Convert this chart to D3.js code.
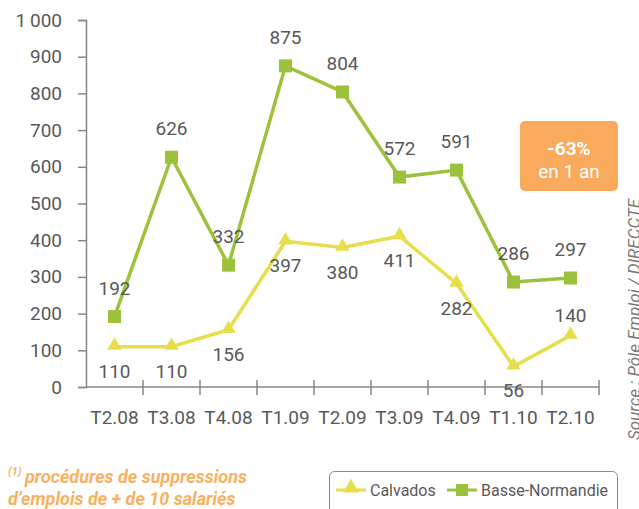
<!DOCTYPE html>
<html>
<head>
<meta charset="utf-8">
<script src="https://cdn.jsdelivr.net/npm/d3@7"></script>
<style>
  body { margin: 0; background: #fff; }
  svg { display: block; }
  text { font-family: Roboto, "DejaVu Sans", sans-serif; fill: #595959; }
</style>
</head>
<body>
<div id="chart"></div>
<script>
const quarters = ["T2.08", "T3.08", "T4.08", "T1.09", "T2.09", "T3.09", "T4.09", "T1.10", "T2.10"];
const calvados = [110, 110, 156, 397, 380, 411, 282, 56, 140];
const basseNormandie = [192, 626, 332, 875, 804, 572, 591, 286, 297];
const calvadosLabelSide = ["below", "below", "below", "below", "below", "below", "below", "below", "above"];
const yTicks = [0, 100, 200, 300, 400, 500, 600, 700, 800, 900, 1000];

const width = 639;
const height = 509;
const margin = { top: 20, right: 40, bottom: 122, left: 86 };
const plotW = 599 - margin.left;
const plotH = 387 - margin.top;

const green = "#9cc23b";
const yellow = "#e6df4b";
const orange = "#f9aa5c";
const axisGrey = "#878787";

const svg = d3.select("#chart").append("svg")
  .attr("width", width)
  .attr("height", height);

const g = svg.append("g")
  .attr("transform", "translate(" + margin.left + "," + margin.top + ")");

const x = d3.scaleBand().domain(quarters).range([0, plotW]);
const y = d3.scaleLinear().domain([0, 1000]).range([plotH, 0]);
const fmt = v => d3.format(",")(v).replace(",", "\u2009");

// y axis
const yAxis = g.append("g")
  .call(d3.axisLeft(y).tickValues(yTicks).tickSize(8).tickPadding(16).tickFormat(fmt));
yAxis.select(".domain").attr("stroke", axisGrey).attr("stroke-width", 1.5);
yAxis.selectAll(".tick line").attr("stroke", axisGrey).attr("stroke-width", 1.5);
yAxis.selectAll(".tick text")
  .attr("font-size", 19)
  .attr("fill", "#595959")
  .attr("font-family", "Roboto, sans-serif");

// x axis (ticks between categories, crossing the axis line)
const xg = g.append("g").attr("transform", "translate(0," + plotH + ")");
xg.append("line")
  .attr("x1", 0).attr("x2", plotW)
  .attr("stroke", axisGrey).attr("stroke-width", 1.5);
xg.selectAll(".sep")
  .data(quarters)
  .join("line")
  .attr("x1", d => x(d) + x.bandwidth())
  .attr("x2", d => x(d) + x.bandwidth())
  .attr("y1", -7).attr("y2", 8)
  .attr("stroke", axisGrey).attr("stroke-width", 1.5);
xg.selectAll(".lbl")
  .data(quarters)
  .join("text")
  .attr("x", d => x(d) + x.bandwidth() / 2)
  .attr("y", 37)
  .attr("text-anchor", "middle")
  .attr("font-size", 19)
  .text(d => d);

const line = d3.line()
  .x((d, i) => x(quarters[i]) + x.bandwidth() / 2)
  .y(d => y(d));

// Basse-Normandie
g.append("path")
  .datum(basseNormandie)
  .attr("d", line)
  .attr("fill", "none")
  .attr("stroke", green)
  .attr("stroke-width", 3.5);
g.selectAll(".sq")
  .data(basseNormandie)
  .join("rect")
  .attr("x", (d, i) => x(quarters[i]) + x.bandwidth() / 2 - 6.5)
  .attr("y", d => y(d) - 6.5)
  .attr("width", 13).attr("height", 13)
  .attr("fill", green);

// Calvados
g.append("path")
  .datum(calvados)
  .attr("d", line)
  .attr("fill", "none")
  .attr("stroke", yellow)
  .attr("stroke-width", 3.5);
const tri = d3.symbol().type(d3.symbolTriangle).size(90);
g.selectAll(".tri")
  .data(calvados)
  .join("path")
  .attr("d", tri)
  .attr("transform", (d, i) => "translate(" + (x(quarters[i]) + x.bandwidth() / 2) + "," + (y(d) - 1) + ")")
  .attr("fill", yellow);

// data labels
g.selectAll(".lblG")
  .data(basseNormandie)
  .join("text")
  .attr("x", (d, i) => x(quarters[i]) + x.bandwidth() / 2)
  .attr("y", d => y(d) - 22)
  .attr("text-anchor", "middle")
  .attr("font-size", 19)
  .text(d => d);
g.selectAll(".lblY")
  .data(calvados)
  .join("text")
  .attr("x", (d, i) => x(quarters[i]) + x.bandwidth() / 2)
  .attr("y", (d, i) => calvadosLabelSide[i] === "above" ? y(d) - 14 : y(d) + 31)
  .attr("text-anchor", "middle")
  .attr("font-size", 19)
  .text(d => d);

// -63% box
svg.append("rect")
  .attr("x", 520).attr("y", 121)
  .attr("width", 98).attr("height", 70)
  .attr("rx", 5)
  .attr("fill", orange);
svg.append("text")
  .attr("x", 569).attr("y", 155)
  .attr("text-anchor", "middle")
  .attr("font-size", 19)
  .attr("font-weight", "bold")
  .style("fill", "#fff")
  .text("-63%");
svg.append("text")
  .attr("x", 569).attr("y", 178)
  .attr("text-anchor", "middle")
  .attr("font-size", 19)
  .style("fill", "#fff")
  .text("en 1 an");

// source
svg.append("text")
  .attr("transform", "translate(640,440) rotate(-90)")
  .attr("font-size", 17)
  .attr("font-style", "italic")
  .style("fill", "#7a7a7a")
  .text("Source : Pôle Emploi / DIRECCTE");

// footnote
const note = svg.append("text")
  .attr("font-size", 18)
  .attr("font-weight", "bold")
  .attr("font-style", "italic")
  .style("fill", "#f9b061");
note.append("tspan").attr("x", 8).attr("y", 475).attr("font-size", 11).text("(1)");
note.append("tspan").attr("x", 25).attr("y", 483).text("procédures de suppressions");
note.append("tspan").attr("x", 8).attr("y", 505).text("d’emplois de + de 10 salariés");

// legend
const legend = svg.append("g");
legend.append("rect")
  .attr("x", 329.5).attr("y", 471.5)
  .attr("width", 288).attr("height", 50)
  .attr("rx", 5)
  .attr("fill", "none")
  .attr("stroke", "#8a8a8a")
  .attr("stroke-width", 1);
const items = [
  { name: "Calvados", color: yellow, shape: "tri", x: 336 },
  { name: "Basse-Normandie", color: green, shape: "sq", x: 447 }
];
items.forEach(it => {
  legend.append("line")
    .attr("x1", it.x).attr("x2", it.x + 30)
    .attr("y1", 490).attr("y2", 490)
    .attr("stroke", it.color).attr("stroke-width", 3);
  if (it.shape === "tri") {
    legend.append("path")
      .attr("d", d3.symbol().type(d3.symbolTriangle).size(110))
      .attr("transform", "translate(" + (it.x + 15) + ",488)")
      .attr("fill", it.color);
  } else {
    legend.append("rect")
      .attr("x", it.x + 9).attr("y", 484)
      .attr("width", 12).attr("height", 12)
      .attr("fill", it.color);
  }
  legend.append("text")
    .attr("x", it.x + 34).attr("y", 496)
    .attr("font-size", 16)
    .text(it.name);
});
</script>
</body>
</html>
